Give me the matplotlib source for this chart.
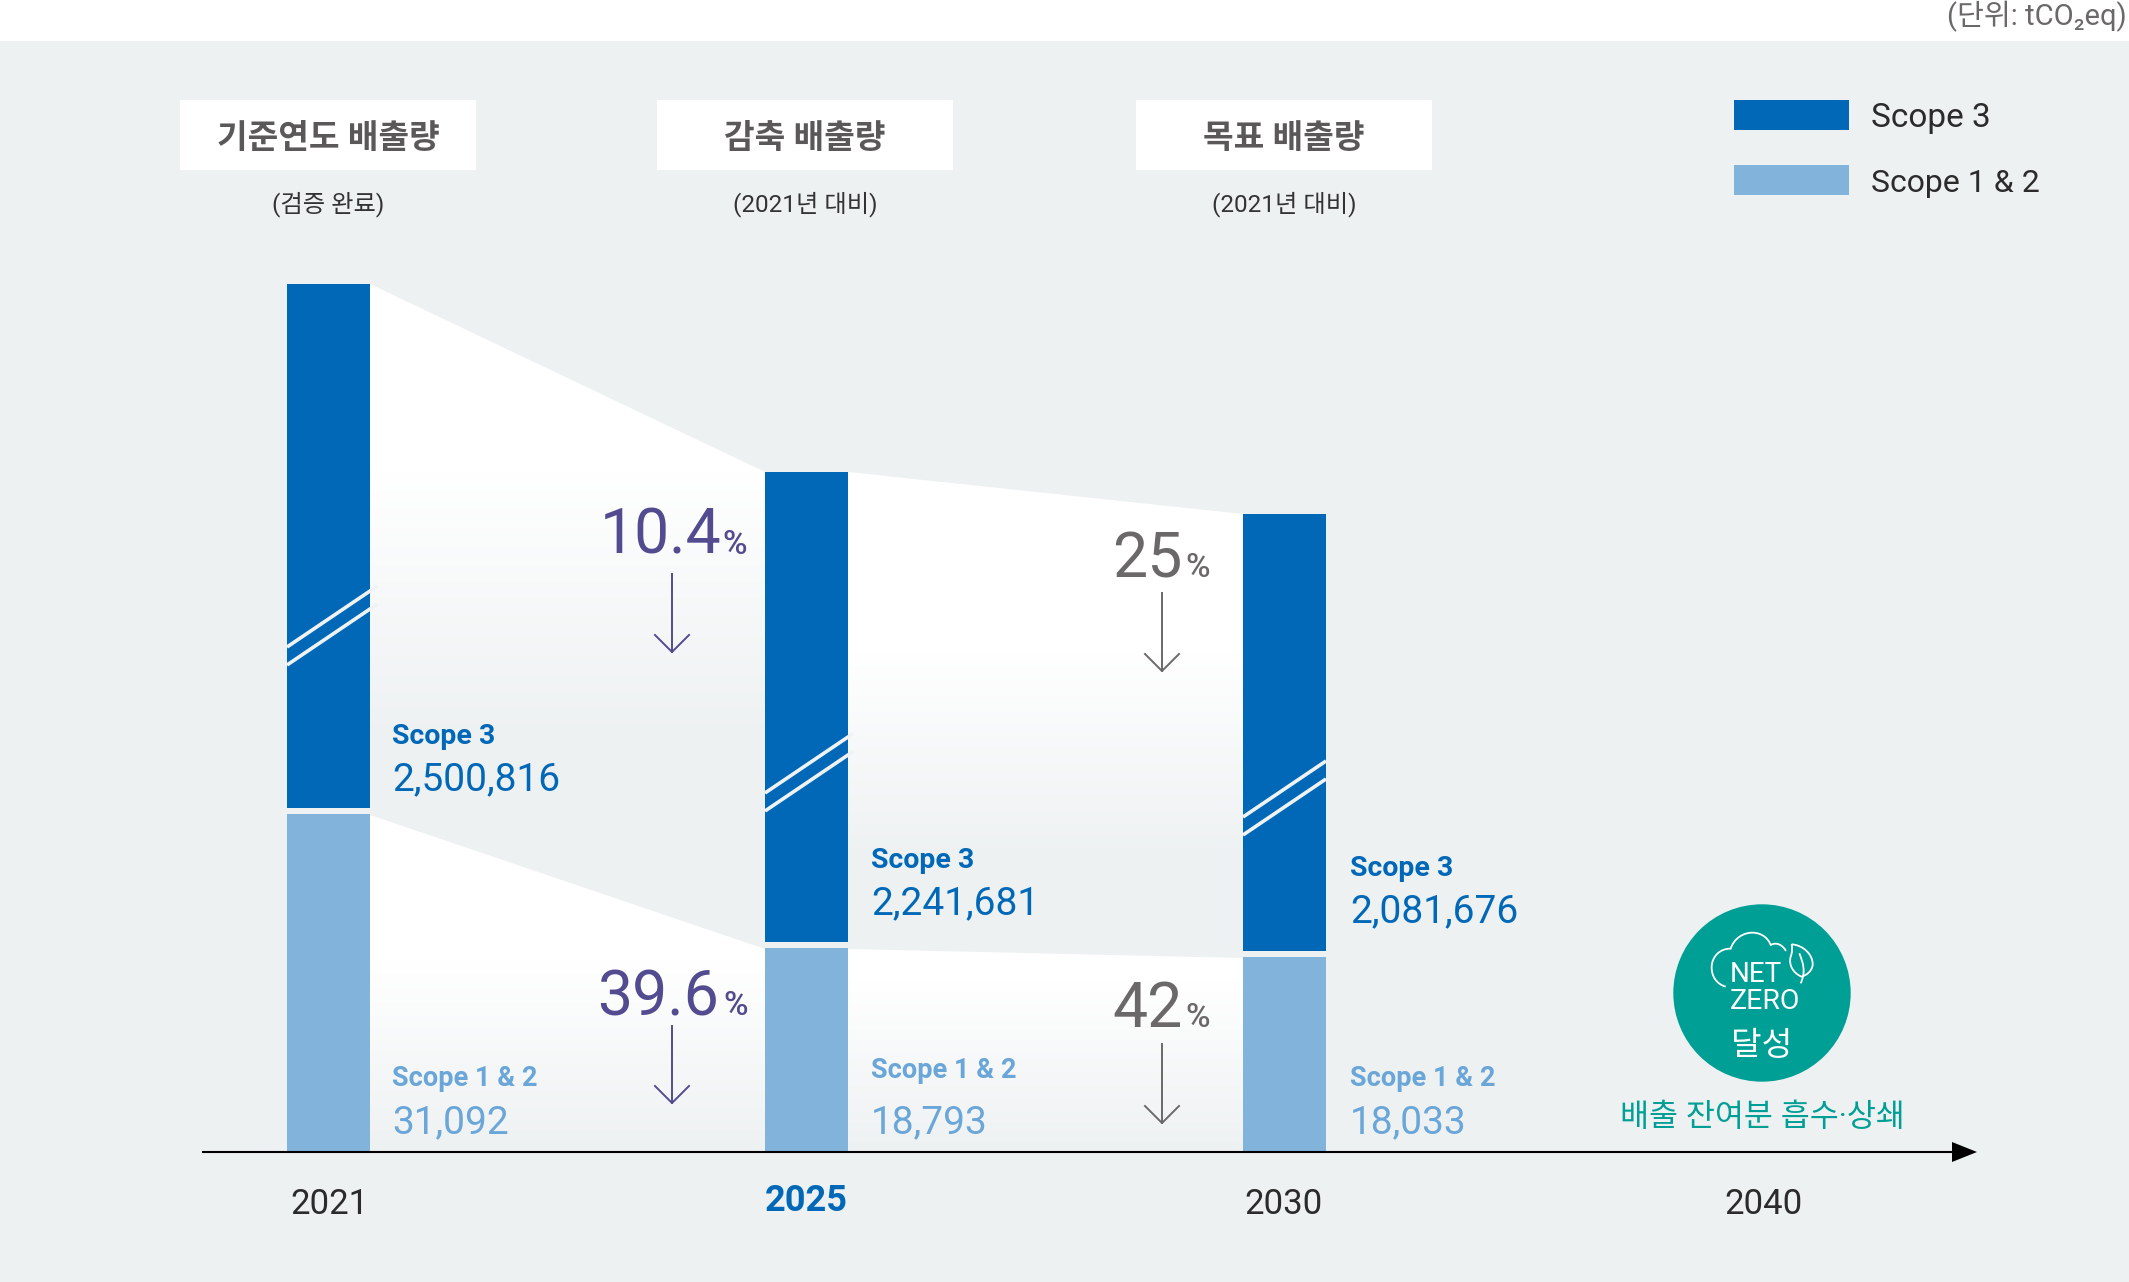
import numpy as np
import matplotlib.pyplot as plt
from matplotlib.patches import Polygon, Circle, Rectangle, PathPatch
from matplotlib.path import Path

# values printed on the chart
years = ['2021', '2025', '2030', '2040']
scope3 = [2500816, 2241681, 2081676]
scope12 = [31092, 18793, 18033]
cut3 = ['10.4', '25']
cut12 = ['39.6', '42']
heads = ['기준연도 배출량', '감축 배출량', '목표 배출량']
subs = ['(검증 완료)', '(2021년 대비)', '(2021년 대비)']

drawn3 = [524, 470, 437]
drawn12 = [338, 204, 195]

DARK = '#0068b7'
LIGHT = '#81b3db'
LIGHT_TXT = '#6aa6d8'
BG = '#eef1f2'
TEAL = '#009f95'
PURPLE = '#524b8f'
GREY = '#6b686a'

plt.rcParams['font.family'] = ['Roboto', 'Noto Sans CJK KR', 'DejaVu Sans']

fig = plt.figure(figsize=(21.29, 12.82), dpi=100, facecolor='white')
ax = fig.add_axes([0, 0, 1, 1])
ax.set_xlim(0, 2129)
ax.set_ylim(1282, 0)
ax.axis('off')

ax.add_patch(Rectangle((0, 41), 2129, 1241, fc=BG, ec='none', zorder=0))

base = 1152
bar_x = [287, 765, 1243]
bar_w = 83
gap = 6

tops3 = [base - a - gap - b for a, b in zip(drawn12, drawn3)]
tops12 = [base - a for a in drawn12]

white = np.array([1, 1, 1])
bg = np.array([0xee, 0xf1, 0xf2]) / 255


# white fade between the bars, white above y0 and background below y1
def band(pts, y0, y1):
    rows = np.arange(1282).reshape(-1, 1, 1)
    f = np.clip((rows - y0) / (y1 - y0), 0, 1)
    img = white * (1 - f) + bg * f
    im = ax.imshow(img, extent=(0, 2129, 1282, 0), aspect='auto', zorder=1)
    im.set_clip_path(Polygon(pts, transform=ax.transData))


fade_upper = [(470, 740), (650, 860)]
fade_lower = [(960, 1152), (980, 1152)]
for i in range(2):
    xa = bar_x[i] + bar_w
    xb = bar_x[i + 1]
    band([(xa, tops3[i]), (xb, tops3[i + 1]), (xb, tops12[i + 1] + 1), (xa, tops12[i] + 1)], *fade_upper[i])
    band([(xa, tops12[i] + 1), (xb, tops12[i + 1] + 1), (xb, base), (xa, base)], *fade_lower[i])
ax.set_xlim(0, 2129)
ax.set_ylim(1282, 0)

for i in range(3):
    ax.bar(bar_x[i], drawn12[i], bar_w, bottom=tops12[i], align='edge', color=LIGHT, zorder=2)
    ax.bar(bar_x[i], drawn3[i], bar_w, bottom=tops3[i], align='edge', color=DARK, zorder=2)

# break marks on the dark bars
for x, y, ext in zip(bar_x, [647, 793, 817], [90, 88, 83]):
    for off in (0, 18):
        ax.plot([x, x + ext], [y + off, y + off - ext * 0.675], color='#f0f3f5', lw=2.6,
                solid_capstyle='butt', zorder=3)

# time axis
ax.plot([202, 1955], [base, base], color='black', lw=1.5, zorder=4, solid_capstyle='butt')
ax.add_patch(Polygon([(1952, base - 10), (1977, base), (1952, base + 10)], fc='black', ec='none', zorder=4))

# year labels
for yr, x in zip(years, [329, 806, 1284, 1763]):
    if yr == '2025':
        ax.text(x, 1201, yr, ha='center', va='center', fontsize=26, color=DARK, fontweight='bold')
    else:
        ax.text(x, 1204, yr, ha='center', va='center', fontsize=25, color='#2b2b2b')

# headers
for x, h, s in zip([328, 805, 1284], heads, subs):
    ax.add_patch(Rectangle((x - 148, 100), 296, 70, fc='white', ec='none', zorder=1))
    ax.text(x, 139, h, ha='center', va='center', fontsize=24, fontweight='bold', color='#5a5858', zorder=2)
    ax.text(x, 204, s, ha='center', va='center', fontsize=17.5, color='#333333')

# legend
ax.add_patch(Rectangle((1734, 100), 115, 30, fc=DARK, ec='none'))
ax.add_patch(Rectangle((1734, 165), 115, 30, fc=LIGHT, ec='none'))
ax.text(1871, 118, 'Scope 3', va='center', fontsize=24, color='#2b2b2b')
ax.text(1871, 183, 'Scope 1 & 2', va='center', fontsize=23, color='#2b2b2b')

# unit
ax.text(2127, 16, '(단위: tCO₂eq)', ha='right', va='center', fontsize=21, color=GREY)

# value labels
for i, x in enumerate([392, 871, 1350]):
    y3 = [736, 860, 868][i]
    ax.text(x, y3, 'Scope 3', va='center', fontsize=20.5, fontweight='bold', color=DARK, zorder=5)
    ax.text(x, y3 + 44, f'{scope3[i]:,}', va='center', fontsize=28, color=DARK, zorder=5)
    y1 = [1079, 1071, 1079][i]
    ax.text(x, y1, 'Scope 1 & 2', va='center', fontsize=19.5, fontweight='bold', color=LIGHT_TXT, zorder=5)
    ax.text(x, 1123, f'{scope12[i]:,}', va='center', fontsize=28, color=LIGHT_TXT, zorder=5)

# reduction labels and arrows
for txt, x, xp, yb, col in [(cut3[0], 600, 722, 554, PURPLE), (cut12[0], 597, 723, 1015, PURPLE),
                            (cut3[1], 1112, 1185, 577, GREY), (cut12[1], 1112, 1185, 1027, GREY)]:
    ax.text(x, yb, txt, va='baseline', fontsize=45, color=col, zorder=5)
    ax.text(xp, yb, '%', va='baseline', fontsize=24, fontweight=500, color=col, zorder=5)

for x, y0, y1, col in [(672, 574, 652, PURPLE), (672, 1026, 1103, PURPLE),
                       (1162, 593, 671, GREY), (1162, 1044, 1123, GREY)]:
    ax.plot([x, x], [y0, y1], color=col, lw=1.4, zorder=5)
    ax.plot([x - 17, x, x + 17], [y1 - 17, y1, y1 - 17], color=col, lw=1.4, zorder=5)

# net zero badge
ax.add_patch(Circle((1762, 993), 88.7, fc=TEAL, ec='none', zorder=2))


def zx(v):
    return 1560 + v / 3


def zy(v):
    return 880 + v / 3


def curve(pts):
    codes = [Path.MOVETO] + [Path.CURVE4] * (len(pts) - 1)
    verts = [(zx(a), zy(b)) for a, b in pts]
    ax.add_patch(PathPatch(Path(verts, codes), fc='none', ec='white', lw=1.3, zorder=3))


# cloud outline
curve([(497, 320), (470, 312), (455, 290), (455, 262),
       (455, 230), (480, 205), (512, 206),
       (522, 175), (550, 158), (577, 158),
       (605, 158), (625, 175), (632, 195),
       (650, 185), (668, 195), (678, 213)])
# leaf
curve([(695, 193), (730, 195), (760, 225), (758, 255),
       (755, 275), (740, 285), (725, 290),
       (700, 280), (685, 255), (692, 230),
       (697, 218), (697, 205), (695, 193)])
curve([(718, 220), (730, 250), (738, 275), (722, 310)])

ax.text(zx(587), zy(283), 'NET', ha='center', va='center', fontsize=20, color='white', zorder=3)
ax.text(zx(615), zy(364), 'ZERO', ha='center', va='center', fontsize=20.5, color='white', zorder=3)
ax.text(1762, 1046, '달성', ha='center', va='center', fontsize=24, color='white', zorder=3)
ax.text(1762, 1117, '배출 잔여분 흡수·상쇄', ha='center', va='center', fontsize=22.7, color=TEAL, zorder=3)

fig.savefig('out.png', dpi=100)
